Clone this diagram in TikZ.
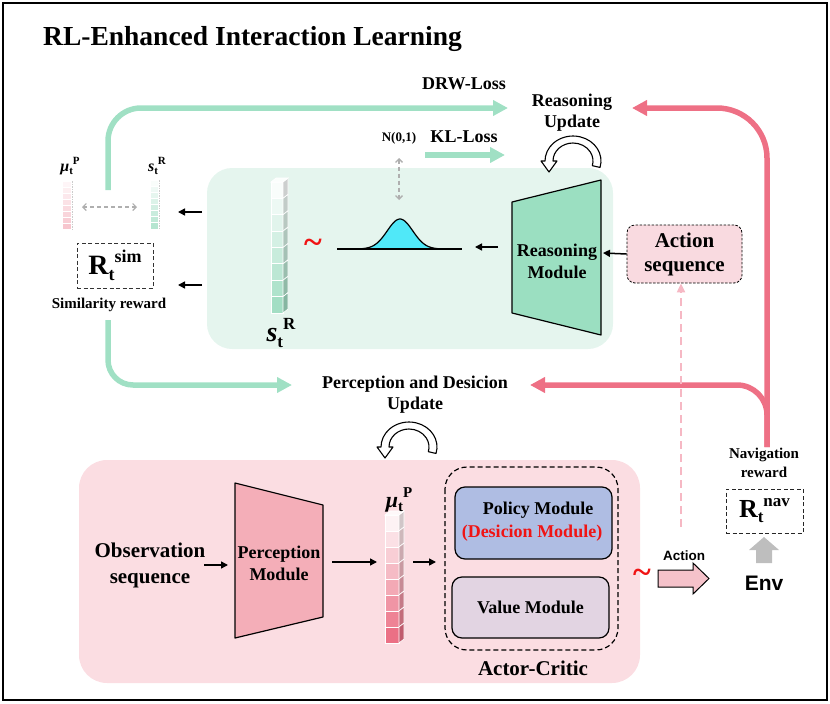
\documentclass[tikz,border=0pt]{standalone}
\usepackage{fontspec}
\setmainfont{Liberation Serif}
\setsansfont{Liberation Sans}
\usetikzlibrary{arrows.meta}

\definecolor{greenline}{RGB}{160,224,196}
\definecolor{pinkline}{RGB}{238,112,133}
\definecolor{greenbg}{RGB}{229,245,238}
\definecolor{pinkbg}{RGB}{251,221,226}
\definecolor{reasonfill}{RGB}{155,223,193}
\definecolor{percfill}{RGB}{244,174,184}
\definecolor{policyfill}{RGB}{175,189,227}
\definecolor{valuefill}{RGB}{226,212,226}
\definecolor{actfill}{RGB}{245,194,202}
\definecolor{aseqfill}{RGB}{249,218,224}
\definecolor{bellfill}{RGB}{80,232,248}
\definecolor{grayarrow}{RGB}{175,175,175}
\definecolor{envarrow}{RGB}{190,190,190}
\definecolor{dashpink}{RGB}{246,184,196}
\definecolor{colgreen}{RGB}{150,218,188}
\definecolor{colpink}{RGB}{232,92,116}
\definecolor{redtxt}{RGB}{240,20,20}

\newcommand{\fs}[1]{\fontsize{#1}{#1}\selectfont}
% base, base size, sub, sup, script size
\newcommand{\SSym}[5]{{\fs{#2}#1}{\fs{#5}\raisebox{-0.2\dimexpr #2pt\relax}{#3}\raisebox{0.42\dimexpr #2pt\relax}{#4}}}

% 3D column: x, y top, w, cell h, colour, pct start, pct end
\newcommand{\cubecolumn}[7]{%
  \foreach \i in {0,...,7}{%
    \pgfmathtruncatemacro\pc{#6+(#7-#6)*\i/7}
    \pgfmathsetmacro\ya{#2+\i*#4}
    \pgfmathsetmacro\yb{#2+(\i+1)*#4}
    \draw[white, line width=0.8pt, fill=#5!\pc!white] (#1,\ya) rectangle (#1+#3,\yb);
    \draw[white, line width=0.6pt, fill=#5!\pc!white!82!black] (#1+#3,\ya) -- (#1+#3+5,\ya-4) -- (#1+#3+5,\yb-4) -- (#1+#3,\yb) -- cycle;
  }
  \draw[white, line width=0.6pt, fill=#5!4!white] (#1,#2) -- (#1+5,#2-4) -- (#1+#3+5,#2-4) -- (#1+#3,#2) -- cycle;
}
% flat small column: x, y, w, h, colour, pct start, pct end
\newcommand{\flatcolumn}[7]{%
  \foreach \i in {0,...,7}{%
    \pgfmathtruncatemacro\pc{#6+(#7-#6)*\i/7}
    \pgfmathsetmacro\ya{#2+\i*#4}
    \pgfmathsetmacro\yb{#2+(\i+1)*#4}
    \draw[white, line width=0.6pt, fill=#5!\pc!white] (#1,\ya) rectangle (#1+#3,\yb);
  }
  \draw[gray!40, dash pattern=on 1.5pt off 1pt, line width=0.5pt] (#1+#3+1,#2) -- (#1+#3+1,#2+8*#4);
}
% hollow curl arrow centred at origin
\newcommand{\curl}{%
  (27.05,6.47) arc[start angle=15, end angle=-180, x radius=28, y radius=25]
  -- (-32,0) -- (-24,11) -- (-16,0) -- (-20,0)
  arc[start angle=-180, end angle=15, x radius=20, y radius=18] -- cycle}

\begin{document}
\begin{tikzpicture}[x=1pt,y=-1pt,
  txt/.style={font=\bfseries\fs{18}, align=center, inner sep=0pt},
  bigline/.style={line width=5.5pt, rounded corners=#1, -{Triangle[length=15pt,width=15pt]}},
  blk/.style={line width=1.5pt, -{Triangle[length=7pt,width=7pt]}},
  grayda/.style={grayarrow, line width=1.3pt, dash pattern=on 4pt off 3pt,
     {Straight Barb[length=3.5pt,width=7pt]}-{Straight Barb[length=3.5pt,width=7pt]}},
  curlstyle/.style={draw=black, fill=white, line width=1.1pt, line join=round}
]
\useasboundingbox (0,0) rectangle (830,704);
\draw[line width=2pt] (3,3) rectangle (827,700);

% backgrounds
\fill[greenbg, rounded corners=25pt] (207,168) rectangle (613,349);
\fill[pinkbg, rounded corners=28pt] (79,460) rectangle (640,683);

% title
\node[anchor=base west, font=\bfseries\fs{27.5}, inner sep=0pt] (title) at (43,45) {RL-Enhanced Interaction Learning};

% top labels
\node[txt] (drw) at (464,84) {DRW-Loss};
\node[txt, font=\bfseries\fontsize{18}{21}\selectfont] (rupd) at (572,113) {Reasoning\\Update};
\node[txt] (kl) at (464,137) {KL-Loss};
\node[txt, font=\bfseries\fs{13}] (norm) at (399,138) {N(0,1)};

% big arrows
\coordinate (gtop) at (108,190);
\coordinate (gbot) at (108,320);
\coordinate (navtop) at (767,447);
\draw[greenline, bigline=33pt] (gtop) -- (108,108) -- (508,108);
\draw[greenline, bigline=25pt] (gbot) -- (108,385) -- (292,385);
\draw[greenline, line width=5.5pt, -{Triangle[length=15pt,width=15pt]}] (425,155) -- (505,155);
\draw[pinkline, bigline=50pt] (navtop) -- (767,108) -- (632,108);
\draw[pinkline, bigline=30pt] (navtop) -- (767,385) -- (530,385);

% curls
\begin{scope}[shift={(573,161)}]
  \path[curlstyle] \curl;
\end{scope}
\begin{scope}[shift={(409,447)}]
  \path[curlstyle] \curl;
\end{scope}

% N(0,1) double arrow
\coordinate (nTop) at (399,158);
\coordinate (nBot) at (399,200);
\draw[grayda] (nTop) -- (nBot);

% Reasoning module
\draw[line width=1.2pt, fill=reasonfill, line join=round] (512,202) -- (601,180) -- (601,335) -- (512,313) -- cycle;
\node[txt, font=\bfseries\fontsize{18}{22}\selectfont] (reason) at (557,261) {Reasoning\\Module};
\coordinate (reasonR) at (603,253);
\coordinate (reasonL) at (498,247);

% Action sequence
\node[draw, dash pattern=on 2.5pt off 1.5pt, line width=0.8pt, rounded corners=8pt, fill=aseqfill,
  minimum width=115pt, minimum height=58pt, inner sep=0pt, align=center,
  font=\bfseries\fontsize{21}{24}\selectfont] (aseq) at (684.5,254) {Action\\sequence};
\draw[blk] (aseq.west) -- (reasonR);

% Gaussian
\coordinate (gaussR) at (475,247);
\draw[line width=1.2pt, fill=bellfill] plot[domain=352:448, samples=70] (\x, {249-30*exp(-1*((\x-400)/18)*((\x-400)/18))}) -- cycle;
\draw[line width=1.2pt] (337,249) -- (462,249);
\draw[blk] (reasonL) -- (gaussR);

% tilde
\node[text=redtxt, font=\bfseries\fs{34}, inner sep=0pt] (tildeA) at (313,246) {\textasciitilde};

% big s column
\cubecolumn{271}{182}{12}{16.375}{colgreen}{6}{88}
\node[inner sep=0pt] (sR) at (281,333) {\bfseries\SSym{\textit{s}}{28}{t}{R}{17}};

% arrows to similarity
\coordinate (colL1) at (202,212);
\coordinate (colL2) at (202,285);
\coordinate (simA) at (178,212);
\coordinate (simB) at (178,285);
\draw[blk] (colL1) -- (simA);
\draw[blk] (colL2) -- (simB);

% small columns
\flatcolumn{62}{181}{9}{6}{colpink}{6}{35}
\flatcolumn{150}{180}{8}{6.1}{colgreen}{6}{70}
\node[inner sep=0pt] (muS) at (70,166) {\bfseries\SSym{\textit{μ}}{16}{t}{P}{11}};
\node[inner sep=0pt] (sS) at (157,166) {\bfseries\SSym{\textit{s}}{16}{t}{R}{11}};
\coordinate (dA) at (82,207);
\coordinate (dB) at (137,207);
\draw[grayda, line width=1.1pt] (dA) -- (dB);

% R sim
\node[draw=black!80, dash pattern=on 4pt off 2.5pt, line width=0.9pt, minimum width=76pt, minimum height=45pt, inner sep=0pt] (rsim) at (115,265.5) {\bfseries\SSym{R}{28}{t}{sim}{18}};
\node[txt, font=\bfseries\fs{15}] (simtxt) at (109,305) {Similarity reward};

% perception update label
\node[txt, font=\bfseries\fontsize{18}{21}\selectfont] (pupd) at (415,395) {Perception and Desicion\\Update};

% Observation
\node[txt, font=\bfseries\fontsize{21}{26}\selectfont] (obs) at (150,565) {Observation\\sequence};
\coordinate (obsR) at (204,565);
\coordinate (percL) at (228,565);
\draw[blk] (obsR) -- (percL);

% Perception module
\draw[line width=1.2pt, fill=percfill, line join=round] (235,483) -- (323,505) -- (323,617) -- (235,638) -- cycle;
\node[txt, font=\bfseries\fontsize{18}{22}\selectfont] (perc) at (279,563) {Perception\\Module};
\coordinate (percR) at (332,562);
\coordinate (muL) at (377,562);
\draw[blk] (percR) -- (muL);

% mu column
\cubecolumn{385}{515}{14}{16}{colpink}{8}{88}
\node[inner sep=0pt] (muP) at (399,500) {\bfseries\SSym{\textit{μ}}{22}{t}{P}{15}};
\coordinate (muR) at (413,562);
\coordinate (acL) at (436,562);
\draw[blk] (muR) -- (acL);

% Actor-critic
\draw[line width=1.2pt, dash pattern=on 5pt off 3pt, rounded corners=22pt] (445,467) rectangle (618,650);
\node[draw, line width=1.2pt, rounded corners=10pt, fill=policyfill, minimum width=157pt, minimum height=72pt, inner sep=0pt] (policy) at (533.5,523) {};
\node[txt] (poltxt) at (538,510) {Policy Module};
\node[txt, text=redtxt] (dectxt) at (532,533) {(Desicion Module)};
\node[draw, line width=1.2pt, rounded corners=10pt, fill=valuefill, minimum width=157pt, minimum height=61pt, inner sep=0pt, font=\bfseries\fs{18}] (value) at (530.5,607.5) {Value Module};
\node[txt, font=\bfseries\fs{21}] (ac) at (533,668) {Actor-Critic};

% tilde 2 and action arrow
\node[text=redtxt, font=\bfseries\fs{34}, inner sep=0pt] (tildeB) at (642,576) {\textasciitilde};
\draw[line width=1pt, fill=actfill, line join=miter] (658,570) -- (693,570) -- (693,563) -- (709,578.5) -- (693,594) -- (693,587) -- (658,587) -- cycle;
\node[font=\sffamily\bfseries\fs{13.5}, inner sep=0pt] (acttxt) at (684,556) {Action};

% action -> action sequence dashed
\coordinate (dashBot) at (681,527);
\draw[dashpink, line width=2pt, dash pattern=on 8pt off 5pt, -{Triangle[length=9pt,width=8pt]}] (dashBot) -- (aseq.south -| dashBot);

% Navigation reward
\node[txt, font=\bfseries\fontsize{15}{19}\selectfont] (navtxt) at (764,463) {Navigation\\reward};
\node[draw=black!85, dash pattern=on 4pt off 2.5pt, line width=0.9pt, minimum width=77pt, minimum height=44pt, inner sep=0pt] (rnav) at (764.5,511) {\bfseries\SSym{R}{26}{t}{nav}{17}};
\fill[envarrow] (756,563) -- (756,550) -- (749,550) -- (764,537) -- (779,550) -- (772,550) -- (772,563) -- cycle;
\node[font=\sffamily\bfseries\fs{21}, inner sep=0pt] (env) at (764,583) {Env};
\end{tikzpicture}
\end{document}
